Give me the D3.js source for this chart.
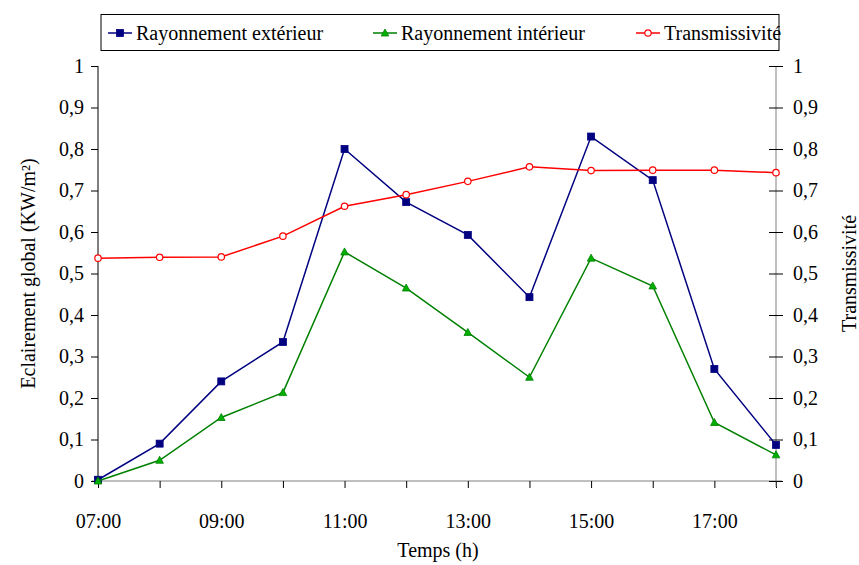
<!DOCTYPE html>
<html>
<head>
<meta charset="utf-8">
<script src="https://cdn.jsdelivr.net/npm/d3@7"></script>
<style>
  body { margin: 0; background: #fff; }
  svg { display: block; }
</style>
</head>
<body>
<svg id="chart" width="859" height="565"></svg>
<script>
const hours = ["07:00", "08:00", "09:00", "10:00", "11:00", "12:00", "13:00", "14:00", "15:00", "16:00", "17:00", "18:00"];
const tickLabels = ["07:00", "09:00", "11:00", "13:00", "15:00", "17:00"];
const exterieur = [0.003, 0.09, 0.24, 0.335, 0.8, 0.672, 0.593, 0.443, 0.83, 0.725, 0.27, 0.087];
const interieur = [0.0, 0.05, 0.153, 0.213, 0.552, 0.465, 0.358, 0.25, 0.537, 0.47, 0.141, 0.063];
const transmissivite = [0.537, 0.539, 0.54, 0.59, 0.662, 0.69, 0.722, 0.757, 0.748, 0.749, 0.749, 0.743];
const yTicks = [0, 0.1, 0.2, 0.3, 0.4, 0.5, 0.6, 0.7, 0.8, 0.9, 1];

const FONT = "Liberation Serif";
const svg = d3.select("#chart");
const plotLeft = 98, plotRight = 776, plotTop = 66, plotBottom = 481;

const x = d3.scalePoint().domain(hours).range([plotLeft, plotRight]);
const y = d3.scaleLinear().domain([0, 1]).range([plotBottom, plotTop]);
const y2 = d3.scaleLinear().domain([0, 1]).range([plotBottom, plotTop]);
const fmt = (d) => String(d).replace(".", ",");

function styleText(sel) {
  sel.attr("font-family", FONT).attr("font-size", 20).attr("fill", "#000");
}

// x axis
const xAxis = svg.append("g")
  .attr("transform", `translate(0,${plotBottom})`)
  .call(d3.axisBottom(x).tickSize(7).tickPadding(26)
    .tickFormat((d) => (tickLabels.includes(d) ? d : "")));
xAxis.attr("font-family", FONT).attr("font-size", 20);
xAxis.select(".domain").attr("stroke", "#808080").attr("d", `M${plotLeft - 6},0H${plotRight + 6}`);
xAxis.selectAll(".tick line").attr("stroke", "#000");
styleText(xAxis.selectAll("text"));

// left axis
const yAxis = svg.append("g")
  .attr("transform", `translate(${plotLeft},0)`)
  .call(d3.axisLeft(y).tickValues(yTicks).tickSize(7).tickPadding(7).tickFormat(fmt));
yAxis.attr("font-family", FONT).attr("font-size", 20);
yAxis.select(".domain").attr("stroke", "#000").attr("d", `M0,${plotTop}V${plotBottom}`);
styleText(yAxis.selectAll("text"));

// right axis
const yAxisR = svg.append("g")
  .attr("transform", `translate(${plotRight},0)`)
  .call(d3.axisRight(y2).tickValues(yTicks).tickSize(7).tickPadding(10).tickFormat(fmt));
yAxisR.attr("font-family", FONT).attr("font-size", 20);
yAxisR.select(".domain").attr("stroke", "#808080").attr("d", `M0,${plotTop}V${plotBottom + 6}`);
yAxisR.selectAll(".tick line").attr("x1", -7).attr("x2", 7).attr("stroke", "#000");
styleText(yAxisR.selectAll("text"));

// titles
svg.append("text")
  .attr("transform", `translate(30,${(plotTop + plotBottom) / 2}) rotate(-90)`)
  .attr("text-anchor", "middle").attr("dominant-baseline", "middle")
  .call(styleText).text("Eclairement global (KW/m²)");
svg.append("text")
  .attr("transform", `translate(851,${(plotTop + plotBottom) / 2}) rotate(-90)`)
  .attr("text-anchor", "middle").attr("dominant-baseline", "middle")
  .call(styleText).text("Transmissivité");
svg.append("text")
  .attr("x", (plotLeft + plotRight) / 2 + 1).attr("y", 557)
  .attr("text-anchor", "middle").call(styleText).text("Temps (h)");

const series = [
  { name: "Rayonnement extérieur", values: exterieur, scale: y, line: "#000080", marker: "square", fill: "#000080", mstroke: "#000080" },
  { name: "Rayonnement intérieur", values: interieur, scale: y, line: "#008000", marker: "triangle", fill: "#00b000", mstroke: "#008000" },
  { name: "Transmissivité", values: transmissivite, scale: y2, line: "#ff0000", marker: "circle", fill: "#fff", mstroke: "#ff0000" },
];

function drawMarker(g, type, cx, cy, s) {
  if (type === "square") {
    g.append("rect").attr("x", cx - 3.5).attr("y", cy - 3.5).attr("width", 7).attr("height", 7)
      .attr("fill", s.fill).attr("stroke", s.mstroke).attr("stroke-width", 0.8);
  } else if (type === "triangle") {
    g.append("path").attr("d", `M${cx},${cy - 4}L${cx + 3.8},${cy + 3}L${cx - 3.8},${cy + 3}Z`)
      .attr("fill", s.fill).attr("stroke", s.mstroke).attr("stroke-width", 0.8);
  } else {
    g.append("circle").attr("cx", cx).attr("cy", cy).attr("r", 3.2)
      .attr("fill", s.fill).attr("stroke", s.mstroke).attr("stroke-width", 1.2);
  }
}

series.forEach((s) => {
  const line = d3.line().x((d, i) => x(hours[i])).y((d) => s.scale(d));
  svg.append("path").datum(s.values).attr("d", line)
    .attr("fill", "none").attr("stroke", s.line).attr("stroke-width", 1.5);
  const g = svg.append("g");
  s.values.forEach((v, i) => drawMarker(g, s.marker, x(hours[i]), s.scale(v), s));
});

// legend
const legend = svg.append("g");
legend.append("rect").attr("x", 101).attr("y", 14.5).attr("width", 678).attr("height", 36)
  .attr("fill", "#fff").attr("stroke", "#000").attr("stroke-width", 1);
const legendX = [108, 373, 636];
series.forEach((s, i) => {
  const lx = legendX[i], ly = 33;
  legend.append("line").attr("x1", lx).attr("x2", lx + 24).attr("y1", ly).attr("y2", ly)
    .attr("stroke", s.line).attr("stroke-width", 1.5);
  drawMarker(legend, s.marker, lx + 12, ly, s);
  legend.append("text").attr("x", lx + 28).attr("y", ly + 6.5)
    .call(styleText).text(s.name);
});
</script>
</body>
</html>
